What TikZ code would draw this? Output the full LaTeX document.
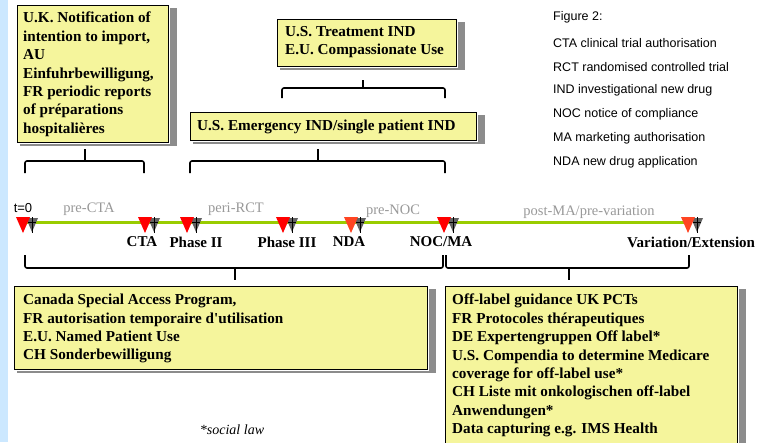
\documentclass[tikz,border=0pt]{standalone}
\usepackage{fontspec}
\setmainfont{Liberation Serif}
\newfontfamily\arialf{Liberation Sans}
\usetikzlibrary{calc}
\definecolor{boxyellow}{HTML}{F5F59C}
\definecolor{stripblue}{HTML}{CCE8FF}
\definecolor{linegreen}{HTML}{99CC00}
\definecolor{lblgray}{HTML}{999999}
\definecolor{shadowgray}{HTML}{8C8C8C}
\definecolor{ndaorange}{HTML}{FF4422}
\newcommand{\boxfont}{\bfseries\fontsize{15.2}{18.4}\selectfont}
\newcommand{\mstone}[2]{%
  \fill[shadowgray!70!black] ([shift={(3,-4)}]#1) -- ([shift={(15,-4)}]#1) -- ([shift={(9,10)}]#1) -- cycle;
  \draw[black, line width=0.7pt] ([shift={(9,-5)}]#1) -- ([shift={(9,11)}]#1) ([shift={(5,0)}]#1) -- ([shift={(13,0)}]#1);
  \fill[#2] ([shift={(-7,-5)}]#1) -- ([shift={(7,-5)}]#1) -- ([shift={(0,11)}]#1) -- cycle;
}
\begin{document}
\begin{tikzpicture}[x=1pt,y=-1pt,
  ybox/.style={draw=black, line width=1pt, fill=boxyellow, anchor=north west, inner sep=0pt},
  btxt/.style={anchor=north west, align=left, inner sep=0pt, font=\boxfont},
  shade/.style={fill=shadowgray},
  brk/.style={draw=black, line width=1.6pt, rounded corners=2pt},
  stub/.style={draw=black, line width=2.6pt},
  tlbl/.style={font=\bfseries\fontsize{15}{18}\selectfont, inner sep=0pt},
  plbl/.style={font=\fontsize{14.5}{17}\selectfont, text=lblgray, inner sep=0pt},
  lgd/.style={font=\arialf\fontsize{12.5}{15}\selectfont, anchor=west, inner sep=0pt}]
\clip (0,0) rectangle (757,442);
\fill[white] (0,0) rectangle (757,442);
\fill[stripblue] (0,0) rectangle (8,442);

% boxes
\node[ybox, minimum width=151pt, minimum height=137pt] (uk) at (17,5) {};
\node[ybox, minimum width=179pt, minimum height=47pt] (tind) at (277,19) {};
\node[ybox, minimum width=286pt, minimum height=28pt] (eind) at (190,112) {};
\node[ybox, minimum width=413pt, minimum height=83pt] (sap) at (14,286) {};
\node[ybox, minimum width=292pt, minimum height=170pt] (offl) at (445,286) {};

% shadows
\foreach \b in {uk,tind,eind,sap,offl}{
  \fill[shade] ([shift={(0.5,3)}]\b.north east) rectangle ([shift={(8,2.5)}]\b.south east);
  \fill[shade] ([shift={(3,0.5)}]\b.south west) rectangle ([shift={(8,2.5)}]\b.south east);
}

% box texts
\node[btxt] (ukt) at ([shift={(6,7)}]uk.north west) {U.K. Notification of\\ intention to import,\\ AU\\ Einfuhrbewilligung,\\ FR periodic reports\\ of préparations\\ hospitalières};
\node[btxt] (tindt) at ([shift={(8,7)}]tind.north west) {U.S. Treatment IND\\ E.U. Compassionate Use};
\node[btxt] (eindt) at ([shift={(7,8)}]eind.north west) {U.S. Emergency IND/single patient IND};
\node[btxt] (sapt) at ([shift={(9,8)}]sap.north west) {Canada Special Access Program,\\ FR autorisation temporaire d\textquotesingle utilisation\\ E.U. Named Patient Use\\ CH Sonderbewilligung};
\node[btxt] (offlt) at ([shift={(7,8)}]offl.north west) {Off-label guidance UK PCTs\\ FR Protocoles thérapeutiques\\ DE Expertengruppen Off label*\\ U.S. Compendia to determine Medicare\\ coverage for off-label use*\\ CH Liste mit onkologischen off-label\\ Anwendungen*\\ Data capturing e.g. IMS Health};

% top brackets
\draw[brk] (25,173) -- (25,161) -- (144,161) -- (144,173);
\draw[stub] (85,149) -- (85,161);
\draw[brk] (282,98) -- (282,88) -- (445,88) -- (445,98);
\draw[stub] (363,80) -- (363,88);
\draw[brk] (190,173) -- (190,161) -- (445,161) -- (445,173);
\draw[stub] (318,149) -- (318,161);

% timeline
\coordinate (m0) at (23,222);
\coordinate (mcta) at (145,222);
\coordinate (mp2) at (187,222);
\coordinate (mp3) at (283,222);
\coordinate (mnda) at (351,222);
\coordinate (mnoc) at (444,222);
\coordinate (mvar) at (688,222);
\draw[linegreen, line width=3pt] (m0) -- (mvar);
\mstone{m0}{red}
\mstone{mcta}{red}
\mstone{mp2}{red}
\mstone{mp3}{red}
\mstone{mnda}{ndaorange}
\mstone{mnoc}{red}
\mstone{mvar}{ndaorange}

% labels above
\node[font=\arialf\fontsize{13}{15}\selectfont, inner sep=0pt] (t0) at (23,208) {t=0};
\node[plbl] (pcta) at (89,209) {pre-CTA};
\node[plbl] (prct) at (236,209) {peri-RCT};
\node[plbl] (pnoc) at (393,211) {pre-NOC};
\node[plbl] (pma) at (589,212) {post-MA/pre-variation};

% labels below
\node[tlbl] (lcta) at (142,242) {CTA};
\node[tlbl] (lp2) at (196,242) {Phase II};
\node[tlbl] (lp3) at (287,242) {Phase III};
\node[tlbl] (lnda) at (349,242) {NDA};
\node[tlbl] (lnoc) at (441,242) {NOC/MA};
\node[tlbl, anchor=west] (lvar) at (627,242) {Variation/Extension};

% bottom brackets
\draw[brk] (25,255) -- (25,268) -- (443,268) -- (443,255);
\draw[brk] (446,255) -- (446,268) -- (689,268) -- (689,255);
\draw[stub] (235,268) -- (235,280);
\draw[stub] (569,268) -- (569,280);

% footnote
\node[font=\itshape\fontsize{14}{16}\selectfont, inner sep=0pt] (soc) at (232,430) {*social law};

% legend
\node[lgd] (lg0) at (553,17) {Figure 2:};
\node[lgd] (lg1) at (553,43) {CTA clinical trial authorisation};
\node[lgd] (lg2) at (553,67) {RCT randomised controlled trial};
\node[lgd] (lg3) at (553,90) {IND investigational new drug};
\node[lgd] (lg4) at (553,114) {NOC notice of compliance};
\node[lgd] (lg5) at (553,138) {MA marketing authorisation};
\node[lgd] (lg6) at (553,162) {NDA new drug application};
\end{tikzpicture}
\end{document}
